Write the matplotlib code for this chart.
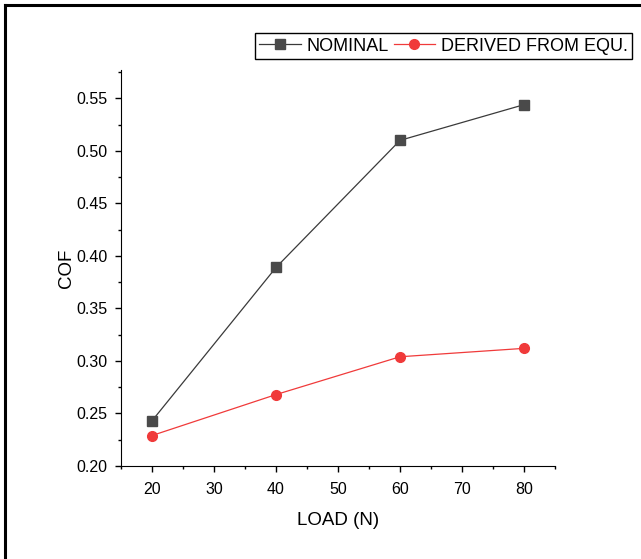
import matplotlib
matplotlib.use("Agg")
import matplotlib.pyplot as plt
from matplotlib.lines import Line2D
from matplotlib.ticker import MultipleLocator

plt.rcParams['font.family'] = ['Liberation Sans', 'DejaVu Sans']

load = [20, 40, 60, 80]
nominal = [0.243, 0.389, 0.510, 0.544]
derived = [0.229, 0.268, 0.304, 0.312]

W, H = 641, 559
fig = plt.figure(figsize=(W / 100, H / 100), dpi=100)
ax = fig.add_axes([121 / W, 1 - 466 / H, (555 - 121) / W, (466 - 70) / H])

ax.plot(load, nominal, color='#3a3a3a', lw=0.9, marker='s', ms=6.5,
        mfc='#4a4a4a', mec='#4a4a4a', label='NOMINAL')
ax.plot(load, derived, color='#f03a3a', lw=0.9, marker='o', ms=7,
        mfc='#f03a3a', mec='#f03a3a', label='DERIVED FROM EQU.')

ax.set_xlim(15, 85)
ax.set_ylim(0.20, 0.577)
ax.xaxis.set_major_locator(MultipleLocator(10))
ax.xaxis.set_minor_locator(MultipleLocator(5))
ax.yaxis.set_major_locator(MultipleLocator(0.05))
ax.yaxis.set_minor_locator(MultipleLocator(0.025))
ax.yaxis.set_major_formatter(plt.FormatStrFormatter('%.2f'))
for s in ['top', 'right']:
    ax.spines[s].set_visible(False)
ax.tick_params(which='major', direction='out', length=4.5, width=1, labelsize=11.5, pad=5)
ax.tick_params(axis='x', which='major', pad=7)
ax.tick_params(which='minor', direction='out', length=2.5, width=1)

ax.set_xlabel('LOAD (N)', fontsize=13.5, labelpad=10.5)
ax.set_ylabel('COF', fontsize=13.5, labelpad=1)

fig.legend(loc='upper right', bbox_to_anchor=(632 / W, 1 - 33 / H), ncol=2,
           fontsize=13, frameon=True, fancybox=False, edgecolor='black',
           handlelength=2.3, columnspacing=0.3, handletextpad=0.3,
           borderpad=0.25, borderaxespad=0, framealpha=1)

# frame lines around the figure
fig.add_artist(Line2D([5 / W, 1], [1 - 5 / H, 1 - 5 / H], color='black', lw=2.2,
                      transform=fig.transFigure))
fig.add_artist(Line2D([5 / W, 5 / W], [0, 1 - 5 / H], color='black', lw=2.2,
                      transform=fig.transFigure))

fig.savefig('out.png', dpi=100)
